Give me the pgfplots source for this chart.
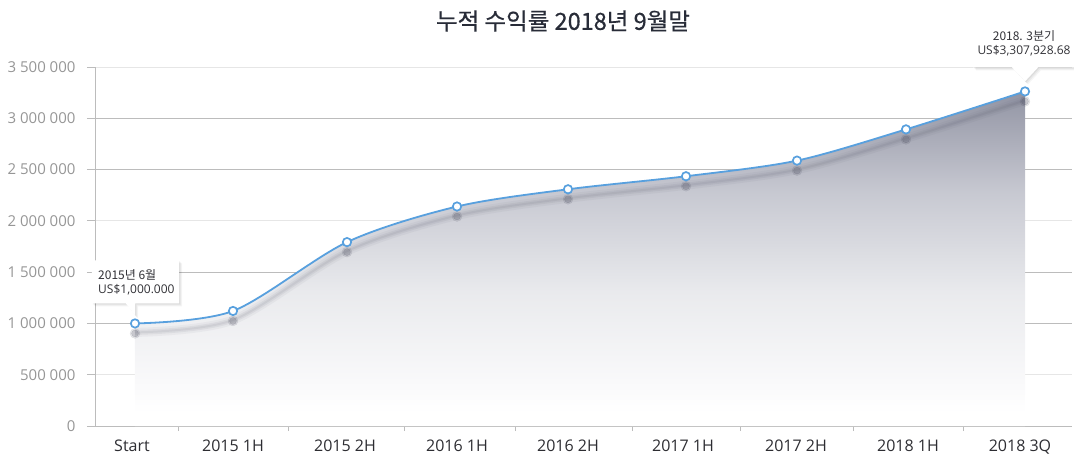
\documentclass[border=0pt]{standalone}
\usepackage{pgfplots}
\pgfplotsset{compat=1.18}
\usepackage{pgfplotstable}
\usepackage{fontspec}
\setmainfont{Open Sans}
\newfontfamily\kr{Noto Sans CJK KR}
\newfontfamily\krt[FakeBold=0.6]{Noto Sans CJK KR}
\usetikzlibrary{calc}
\definecolor{linec}{RGB}{88,160,222}
\definecolor{shadc}{RGB}{70,72,90}
\definecolor{gridd}{RGB}{188,188,188}
\definecolor{gridl}{RGB}{230,230,230}
\definecolor{ylab}{RGB}{150,150,150}
\definecolor{xlab}{RGB}{45,45,50}
\definecolor{titlec}{RGB}{40,44,56}
\definecolor{annc}{RGB}{50,50,55}
\pgfdeclareverticalshading{areafade}{100bp}{%
  rgb(0bp)=(1,1,1);
  rgb(27bp)=(1,1,1);
  rgb(32bp)=(0.975,0.975,0.98);
  rgb(45bp)=(0.915,0.918,0.93);
  rgb(60bp)=(0.78,0.785,0.82);
  rgb(75bp)=(0.57,0.58,0.64);
  rgb(100bp)=(0.57,0.58,0.64)}

\pgfplotstableread{
x y
135 1000000
233 1121600
347 1792800
457 2140000
568 2308000
686 2435000
797 2587500
906 2892000
1025 3262000
}\datatable

\begin{document}
\begin{tikzpicture}
\begin{axis}[
  scale only axis, width=977pt, height=359pt,
  xmin=95, xmax=1072, ymin=0, ymax=3500000,
  axis lines*=left,
  axis line style={gridd, line width=0.8pt},
  tick align=outside,
  xtick={132,233,345,457,568,683,796,908,1020},
  xticklabels={Start,2015 1H,2015 2H,2016 1H,2016 2H,2017 1H,2017 2H,2018 1H,2018 3Q},
  xtick style={draw=none},
  x tick label style={text=xlab, font=\fontsize{16}{18}\selectfont, yshift=-2pt},
  extra x ticks={178,288,404,515,632,740,853,963},
  extra x tick labels={},
  extra x tick style={major tick length=5pt, xtick style={draw=gridd, line width=0.8pt}, xmajorgrids=false},
  ytick={0,500000,2000000,3500000},
  extra y ticks={1000000,1500000,2500000,3000000},
  extra y tick style={grid style={gridd, line width=0.8pt}},
  ymajorgrids, grid style={gridl, line width=0.8pt},
  ytick style={draw=gridd, line width=0.8pt},
  major tick length=8pt,
  scaled y ticks=false,
  /pgf/number format/fixed,
  /pgf/number format/1000 sep={\ },
  /pgf/number format/assume math mode=true,
  y tick label style={text=ylab, font=\fontsize{15}{17}\selectfont, xshift=-8pt},
]
\coordinate (o) at (axis cs:95,0);
\addplot[draw=none, smooth, shading=areafade] table[x=x,y=y] {\datatable} \closedcycle;
\addplot[smooth, shadc, line width=9pt, opacity=0.05, yshift=-9pt] table[x=x,y=y] {\datatable};
\addplot[smooth, shadc, line width=5pt, opacity=0.07, yshift=-9pt] table[x=x,y=y] {\datatable};
\addplot[smooth, shadc, line width=2pt, opacity=0.08, yshift=-9pt] table[x=x,y=y] {\datatable};
\addplot[only marks, mark=*, mark size=5pt, shadc, opacity=0.12, yshift=-10pt] table[x=x,y=y] {\datatable};
\addplot[only marks, mark=*, mark size=3.5pt, shadc, opacity=0.2, yshift=-10pt] table[x=x,y=y] {\datatable};
\addplot[smooth, linec, line width=1.8pt, mark=*, mark size=4.2pt,
  mark options={fill=white, draw=linec, line width=1.7pt}] table[x=x,y=y] {\datatable};
\coordinate (p1) at (axis cs:135,1000000);
\coordinate (p2) at (axis cs:1025,3262000);
\end{axis}
% callout 1
\coordinate (t1) at ($(p1)+(0,8pt)$);
\foreach \s/\o in {3pt/0.04,2pt/0.05,1pt/0.06}{
  \fill[black, opacity=\o] ($(t1)+(\s,-\s)$) -- ++(-9pt,12pt) -- ++(-34pt,0) -- ++(0,43pt) -- ++(87pt,0) -- ++(0,-43pt) -- ++(-44pt,0) -- cycle;
}
\fill[white] (t1) -- ++(-9pt,12pt) -- ++(-34pt,0) -- ++(0,43pt) -- ++(87pt,0) -- ++(0,-43pt) -- ++(-44pt,0) -- cycle;
\node[anchor=west, inner sep=0, text=annc, font=\fontsize{12}{14}\selectfont] at ($(t1)+(-37pt,40pt)$) {\kr 2015년 6월};
\node[anchor=west, inner sep=0, text=annc, font=\fontsize{12}{14}\selectfont] at ($(t1)+(-37pt,26pt)$) {US\$1,000.000};
% callout 2
\coordinate (t2) at ($(p2)+(0,10pt)$);
\foreach \s/\o in {3pt/0.04,2pt/0.05,1pt/0.06}{
  \fill[black, opacity=\o] ($(t2)+(\s,-\s)$) -- ++(-13pt,14pt) -- ++(-39pt,0) -- ++(0,56pt) -- ++(104pt,0) -- ++(0,-56pt) -- ++(-39pt,0) -- cycle;
}
\fill[white] (t2) -- ++(-13pt,14pt) -- ++(-39pt,0) -- ++(0,56pt) -- ++(104pt,0) -- ++(0,-56pt) -- ++(-39pt,0) -- cycle;
\node[inner sep=0, text=annc, font=\fontsize{12}{14}\selectfont] at ($(t2)+(-1pt,45pt)$) {{\kr 2018. 3분기}};
\node[inner sep=0, text=annc, font=\fontsize{12}{14}\selectfont] at ($(t2)+(-1pt,31pt)$) {US\$3,307,928.68};
% title
\node[text=titlec, font=\krt\fontsize{23.5}{26}\selectfont] at ($(o)+(468pt,405pt)$) {누적 수익률 2018년 9월말};
\pgfresetboundingbox
\path[use as bounding box] ($(o)+(-95pt,-33pt)$) rectangle ($(o)+(979pt,426pt)$);
\end{tikzpicture}
\end{document}
